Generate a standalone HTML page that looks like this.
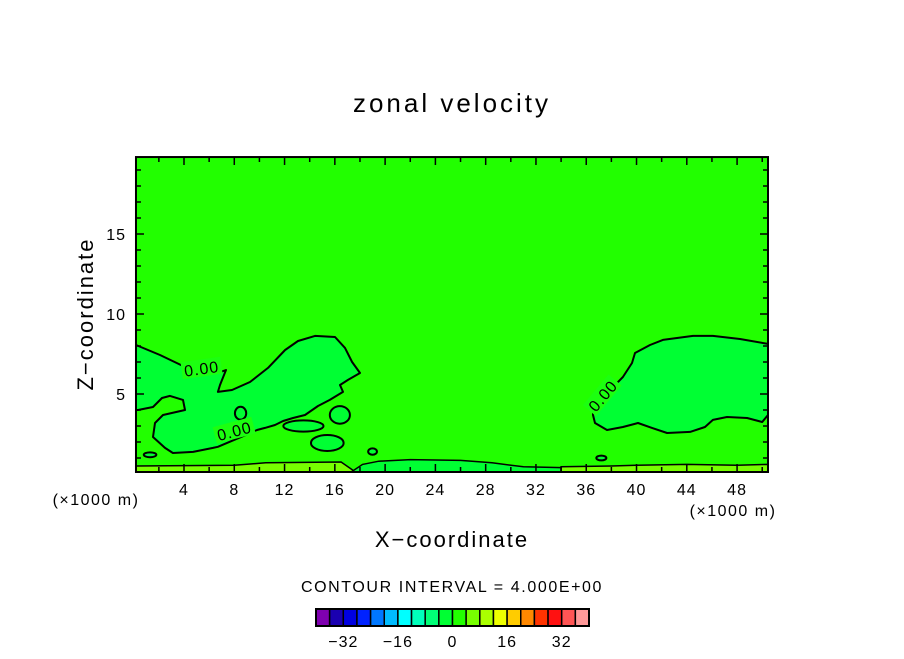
<!DOCTYPE html>
<html><head><meta charset="utf-8"><style>
body{margin:0;background:#fff;width:904px;height:654px;overflow:hidden}
svg text{font-family:"Liberation Sans",sans-serif;fill:#000}
</style></head><body>
<svg id="chart" width="904" height="654" viewBox="0 0 904 654" xmlns="http://www.w3.org/2000/svg">
<text x="452" y="112" font-size="26" text-anchor="middle" letter-spacing="3">zonal velocity</text>
<g id="plot"></g>
<g id="axes"></g>
<text x="452" y="547" font-size="22" text-anchor="middle" letter-spacing="2">X−coordinate</text>
<text transform="translate(93,314) rotate(-90)" font-size="22" text-anchor="middle" letter-spacing="2">Z−coordinate</text>
<text x="96" y="505" font-size="16" text-anchor="middle" letter-spacing="1.5">(×1000 m)</text>
<text x="733" y="516" font-size="16" text-anchor="middle" letter-spacing="1.5">(×1000 m)</text>
<text x="452" y="592" font-size="16" text-anchor="middle" letter-spacing="1.6">CONTOUR INTERVAL = 4.000E+00</text>
<g id="cbar"></g>
</svg>
<script>
const xTicksMajor=[4,8,12,16,20,24,28,32,36,40,44,48];
const xTicksMinor=[2,6,10,14,18,22,26,30,34,38,42,46,50];
const zTicksMajor=[5,10,15];
const zTicksMinor=[1,2,3,4,6,7,8,9,11,12,13,14,16,17,18,19];
const xDomain=[0.18,50.46];
const zDomain=[0.125,19.81];
const cbarColors=["#7f00b0","#1a00b0","#0000e0","#0022ff","#0077ff","#00bbff","#00ffff","#00ffbb","#00ff77","#00ff33","#22ff00","#77ff00","#aaff00","#eeff00","#ffcc00","#ff8800","#ff3300","#ff1111","#ff5555","#ff9999"];
const cbarLabels=[-32,-16,0,16,32];
const bandLeft=[[0.18,0.125],[0.18,0.5],[8,0.55],[10.5,0.7],[16.5,0.75],[17.5,0.2],[17.5,0.125]];
const bandCenter=[[17.3,0.125],[18.2,0.6],[19.5,0.8],[22,0.9],[26,0.85],[28.5,0.7],[31,0.45],[34,0.4],[34,0.125]];
const bandRight=[[34,0.125],[34,0.45],[38,0.5],[40,0.55],[44,0.6],[48,0.55],[50.46,0.6],[50.46,0.125]];
const blobLeft=[[0.18,8.06],[2.09,7.44],[3.92,6.75],[7.0,6.4],[7.34,6.5],[6.86,5.56],[6.7,5.13],[7.82,5.25],[9.25,5.75],[10.68,6.63],[12.04,7.75],[13.07,8.31],[14.42,8.63],[16.01,8.56],[16.81,7.88],[17.37,7.0],[18.0,6.31],[17.05,5.88],[16.41,5.56],[16.65,5.13],[15.6,4.63],[14.66,4.25],[13.63,3.69],[12.67,3.5],[11.88,3.31],[11.24,3.06],[10.44,2.88],[9.81,2.75],[8.5,2.3],[6.7,1.7],[6.31,1.63],[4.72,1.38],[3.12,1.31],[2.49,1.63],[1.53,2.31],[1.69,3.19],[2.33,3.69],[4.08,4.0],[3.92,4.63],[2.89,4.88],[2.25,4.75],[1.53,4.19],[0.34,4.0],[0.18,4.0]];
const blobRight=[[50.46,8.13],[48.23,8.44],[46.08,8.63],[44.49,8.63],[42.1,8.38],[41.07,8.06],[39.88,7.56],[39.64,6.94],[38.92,6.06],[37.6,5.0],[36.54,3.88],[36.54,3.69],[36.7,3.19],[37.65,2.75],[38.92,2.94],[40.12,3.19],[41.23,2.88],[42.43,2.56],[44.26,2.63],[45.45,2.94],[46.08,3.38],[47.2,3.56],[48.8,3.5],[50.0,3.25],[50.46,3.69]];
const smallBlobs=[[16.4,3.69,0.8,0.55],[15.4,1.94,1.3,0.5],[8.5,3.8,0.45,0.4],[1.3,1.2,0.5,0.15],[19.0,1.4,0.35,0.2],[37.2,1.0,0.4,0.15],[13.5,3.0,1.6,0.35]];
const contourLabels=[[5.4,6.6,-8],[8.0,2.7,-15],[37.3,4.9,-50]];

const NS="http://www.w3.org/2000/svg";
function X(v){return 184+(v-4)*12.57;}
function Z(v){return 394-(v-5)*16;}
function mk(tag,attrs,parent){const e=document.createElementNS(NS,tag);for(const k in attrs)e.setAttribute(k,attrs[k]);parent.appendChild(e);return e;}
function pts(a){return a.map(p=>X(p[0]).toFixed(1)+","+Z(p[1]).toFixed(1)).join(" ");}
const plot=document.getElementById('plot'),axes=document.getElementById('axes'),cb=document.getElementById('cbar');
const x0=X(xDomain[0]),x1=X(xDomain[1]),y0=Z(zDomain[0]),y1=Z(zDomain[1]);
const bg=mk('rect',{x:x0,y:y1,width:x1-x0,height:y0-y1,fill:"#22ff00"},plot);


[[bandLeft,"#77ff00","band-left"],[bandCenter,"#00ff33","band-center"],[bandRight,"#77ff00","band-right"]].forEach(b=>{
 const e=mk('polygon',{points:pts(b[0]),fill:b[1],stroke:"#000","stroke-width":1.5},plot);
 
 
});
[[blobLeft,"contour-left-region"],[blobRight,"contour-right-region"]].forEach(b=>{
 const e=mk('polygon',{points:pts(b[0]),fill:"#00ff33",stroke:"#000","stroke-width":2,"stroke-linejoin":"round"},plot);
 
 
});
smallBlobs.forEach(s=>{
 const e=mk('ellipse',{cx:X(s[0]),cy:Z(s[1]),rx:s[2]*12.57,ry:s[3]*16,fill:"#00ff33",stroke:"#000","stroke-width":2},plot);
 
 
});
contourLabels.forEach(l=>{
 const g=mk('g',{transform:`translate(${X(l[0])},${Z(l[1])}) rotate(${l[2]})`},plot);
 
 
 mk('rect',{x:-20,y:-9,width:40,height:17,fill:"#1cff10"},g);
 const t=mk('text',{x:0,y:6,"font-size":16,"text-anchor":"middle","letter-spacing":1},g);t.textContent="0.00";
});
const fr=mk('rect',{x:x0,y:y1,width:x1-x0,height:y0-y1,fill:"none",stroke:"#000","stroke-width":2},axes);


xTicksMajor.concat(xTicksMinor).forEach(v=>{
 const L=xTicksMajor.includes(v)?8:5,x=X(v);
 if(x>x1)return;
 const t=mk('path',{d:`M${x},${y0}v${-L}M${x},${y1}v${L}`,stroke:"#000","stroke-width":1.5},axes);
 
 
});
xTicksMajor.forEach(v=>{
 const t=mk('text',{x:X(v),y:495,"font-size":16,"text-anchor":"middle","letter-spacing":1},axes);t.textContent=v;
 
 
});
zTicksMajor.concat(zTicksMinor).forEach(v=>{
 const L=zTicksMajor.includes(v)?8:5,y=Z(v);
 const t=mk('path',{d:`M${x0},${y}h${L}M${x1},${y}h${-L}`,stroke:"#000","stroke-width":1.5},axes);
 
 
});
zTicksMajor.forEach(v=>{
 const t=mk('text',{x:126,y:Z(v)+6,"font-size":16,"text-anchor":"end","letter-spacing":1},axes);t.textContent=v;
 
 
});
const cw=13.65,cx0=316,cy=609,ch=17;
cbarColors.forEach((c,i)=>{
 const r=mk('rect',{x:cx0+i*cw,y:cy,width:cw,height:ch,fill:c,stroke:"#000","stroke-width":1.5},cb);
 
 
});
const cbf=mk('rect',{x:cx0,y:cy,width:cw*cbarColors.length,height:ch,fill:"none",stroke:"#000","stroke-width":2},cb);


cbarLabels.forEach(v=>{
 const k=v/4+10;
 const t=mk('text',{x:cx0+k*cw,y:647,"font-size":16,"text-anchor":"middle","letter-spacing":1},cb);t.textContent=(v<0?"−"+(-v):v);
 
 
});
</script>
</body></html>
